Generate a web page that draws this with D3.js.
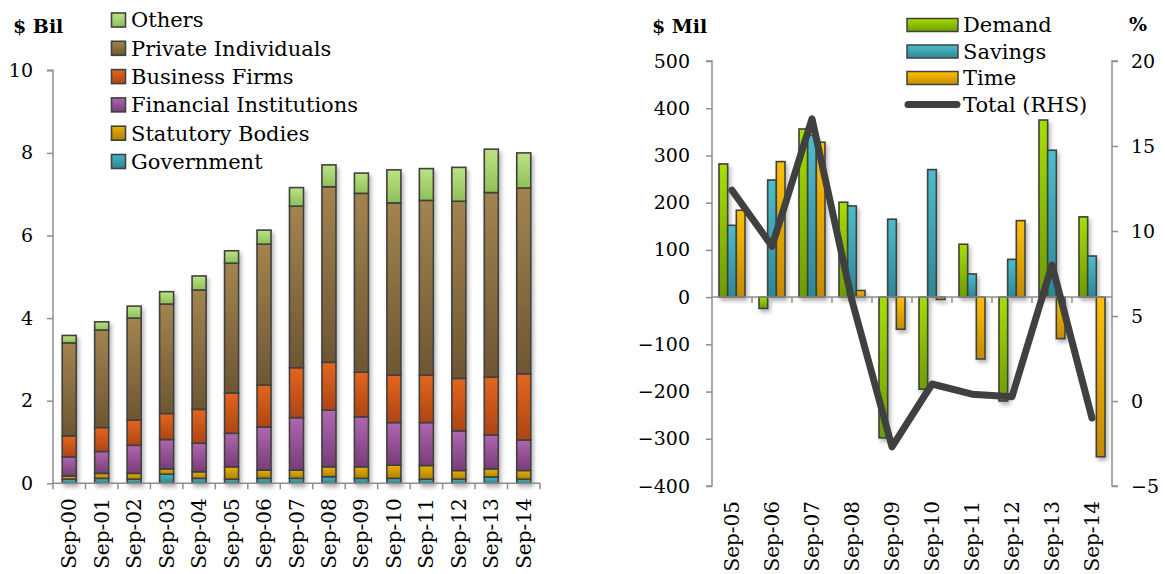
<!DOCTYPE html>
<html>
<head>
<meta charset="utf-8">
<script src="https://cdn.jsdelivr.net/npm/d3@7"></script>
<style>
  html, body { margin: 0; padding: 0; background: #fff; }
  svg { display: block; font-family: "DejaVu Serif", "Liberation Serif", serif; }
  .axis path, .axis line { stroke: #8e8e8e; stroke-width: 1.5; }
</style>
</head>
<body>
<svg id="chart" width="1165" height="574"></svg>
<script>
// ---- Deposits by holder ($ billion), stacked ----
const holderYears = ["Sep-00","Sep-01","Sep-02","Sep-03","Sep-04","Sep-05","Sep-06","Sep-07","Sep-08","Sep-09","Sep-10","Sep-11","Sep-12","Sep-13","Sep-14"];
const government  = [0.10,0.12,0.10,0.22,0.12,0.10,0.12,0.12,0.16,0.12,0.12,0.10,0.10,0.15,0.10];
const statutory   = [0.08,0.12,0.14,0.13,0.16,0.30,0.20,0.20,0.24,0.28,0.32,0.33,0.21,0.20,0.21];
const financial   = [0.46,0.53,0.68,0.71,0.69,0.81,1.04,1.27,1.37,1.21,1.03,1.04,0.96,0.82,0.74];
const business    = [0.51,0.58,0.61,0.63,0.82,0.98,1.02,1.21,1.16,1.08,1.15,1.15,1.27,1.40,1.60];
const individuals = [2.25,2.36,2.47,2.65,2.89,3.14,3.41,3.91,4.25,4.33,4.17,4.23,4.29,4.47,4.50];
const others      = [0.18,0.20,0.29,0.30,0.34,0.30,0.34,0.45,0.53,0.49,0.80,0.77,0.82,1.05,0.85];
const holderNames = ["Government","Statutory Bodies","Financial Institutions","Business Firms","Private Individuals","Others"];
const leftTicks = [0, 2, 4, 6, 8, 10];

// ---- Annual change by deposit type ($ million) and total growth (%) ----
const changeYears = ["Sep-05","Sep-06","Sep-07","Sep-08","Sep-09","Sep-10","Sep-11","Sep-12","Sep-13","Sep-14"];
const demand  = [282, -24, 356, 201, -298, -195, 112, -220, 375, 170];
const savings = [152, 248, 343, 193, 165, 270, 49, 80, 311, 87];
const time    = [184, 287, 328, 14, -68, -5, -131, 162, -88, -338];
const totalPct = [12.4, 9.1, 16.6, 5.9, -2.7, 1.0, 0.4, 0.25, 8.0, -1.0];
const typeNames = ["Demand","Savings","Time"];
const milTicks = [-400,-300,-200,-100,0,100,200,300,400,500];
const pctTicks = [-5, 0, 5, 10, 15, 20];

const svg = d3.select("#chart");
const defs = svg.append("defs");

// vertical gradients: lighter at the top, deeper at the bottom
const fills = {
  "Others": ["#bde384", "#8fbf58"],
  "Private Individuals": ["#a3844f", "#6e5633"],
  "Business Firms": ["#e4661f", "#ad4513"],
  "Financial Institutions": ["#b067b0", "#773d77"],
  "Statutory Bodies": ["#e8b000", "#b08300"],
  "Government": ["#45b6c4", "#2b8590"],
  "Demand": ["#a6de00", "#6c9c00"],
  "Savings": ["#4dbdcc", "#2d8794"],
  "Time": ["#ffc000", "#c48b00"]
};
const gid = name => "g-" + name.replace(/\s+/g, "-");
Object.entries(fills).forEach(([name, [c0, c1]]) => {
  const g = defs.append("linearGradient").attr("id", gid(name))
    .attr("x1", 0).attr("y1", 0).attr("x2", 0).attr("y2", 1);
  g.append("stop").attr("offset", "0%").attr("stop-color", c0);
  g.append("stop").attr("offset", "100%").attr("stop-color", c1);
});
const shadow = defs.append("filter").attr("id", "shadow")
  .attr("x", "-30%").attr("y", "-10%").attr("width", "180%").attr("height", "130%");
shadow.append("feDropShadow").attr("dx", 2).attr("dy", 3)
  .attr("stdDeviation", 2).attr("flood-color", "#000").attr("flood-opacity", 0.3);

const edge = "#404040";
const tickFont = 19, labelFont = 20, legendFont = 21;

// ================= Left: stacked holders =================
const L = { x0: 53, x1: 540, y0: 70.3, y1: 483.3 };
const xL = d3.scaleBand().domain(holderYears).range([L.x0, L.x1]).paddingInner(0).paddingOuter(0);
const yL = d3.scaleLinear().domain([0, 10]).range([L.y1, L.y0]);

const rows = holderYears.map((yr, i) => ({
  year: yr,
  "Government": government[i],
  "Statutory Bodies": statutory[i],
  "Financial Institutions": financial[i],
  "Business Firms": business[i],
  "Private Individuals": individuals[i],
  "Others": others[i]
}));
const stacked = d3.stack().keys(holderNames)(rows);

const barW = 14;
const gL = svg.append("g").attr("filter", "url(#shadow)");
stacked.forEach(layer => {
  gL.selectAll(null).data(layer).join("rect")
    .attr("x", d => xL(d.data.year) + xL.bandwidth() / 2 - barW / 2)
    .attr("y", d => yL(d[1]))
    .attr("width", barW)
    .attr("height", d => yL(d[0]) - yL(d[1]))
    .attr("fill", `url(#${gid(layer.key)})`)
    .attr("stroke", edge).attr("stroke-width", 1.6);
});

// y axis
svg.append("g").attr("class", "axis")
  .attr("transform", `translate(${L.x0},0)`)
  .call(d3.axisLeft(yL).tickValues(leftTicks).tickSize(6).tickPadding(14).tickFormat(d3.format("d")))
  .call(g => g.select(".domain").attr("d", `M-6,${yL(10)}H0V${yL(0)}`))
  .call(g => g.selectAll("text").attr("font-size", tickFont).attr("fill", "#000")
    .attr("font-family", "DejaVu Serif"));

// x axis with ticks at band boundaries
const axL = svg.append("g").attr("class", "axis");
axL.append("line").attr("x1", L.x0).attr("x2", L.x1).attr("y1", L.y1).attr("y2", L.y1);
axL.selectAll(".tk").data(holderYears.map((d, i) => i).concat([holderYears.length]))
  .join("line")
  .attr("x1", i => i < holderYears.length ? xL(holderYears[i]) : L.x1)
  .attr("x2", i => i < holderYears.length ? xL(holderYears[i]) : L.x1)
  .attr("y1", L.y1).attr("y2", L.y1 + 6);
svg.append("g").selectAll("text").data(holderYears).join("text")
  .attr("transform", d => `translate(${xL(d) + xL.bandwidth() / 2},${L.y1 + 15}) rotate(-90)`)
  .attr("text-anchor", "end").attr("dy", "0.35em")
  .attr("font-size", labelFont).text(d => d);

svg.append("text").attr("x", 13).attr("y", 33).attr("font-size", 19)
  .attr("font-weight", "bold").text("$ Bil");

// legend (top to bottom: Others ... Government)
const legL = svg.append("g");
holderNames.slice().reverse().forEach((name, i) => {
  const cy = 20 + i * 28.3;
  legL.append("rect").attr("x", 111.5).attr("y", cy - 7).attr("width", 14).attr("height", 14)
    .attr("fill", `url(#${gid(name)})`).attr("stroke", edge).attr("stroke-width", 1.6);
  legL.append("text").attr("x", 131).attr("y", cy).attr("dy", "0.35em")
    .attr("font-size", legendFont).text(name);
});

// ================= Right: change by type + total line =================
const R = { x0: 712, x1: 1112, y0: 61, y1: 486 };
const xR = d3.scaleBand().domain(changeYears).range([R.x0, R.x1]).paddingInner(0).paddingOuter(0);
const xSub = d3.scaleBand().domain(typeNames).range([7, 33]).paddingInner(0);
const yR = d3.scaleLinear().domain([-400, 500]).range([R.y1, R.y0]);
const yP = d3.scaleLinear().domain([-5, 20]).range([R.y1, R.y0]);

const series = { "Demand": demand, "Savings": savings, "Time": time };
const gR = svg.append("g").attr("filter", "url(#shadow)");
typeNames.forEach(name => {
  gR.selectAll(null).data(series[name].map((v, i) => ({ v, yr: changeYears[i] }))).join("rect")
    .attr("x", d => xR(d.yr) + xSub(name))
    .attr("width", xSub.bandwidth())
    .attr("y", d => yR(Math.max(0, d.v)))
    .attr("height", d => Math.abs(yR(d.v) - yR(0)))
    .attr("fill", `url(#${gid(name)})`)
    .attr("stroke", edge).attr("stroke-width", 1.6);
});

// left axis ($ Mil)
svg.append("g").attr("class", "axis")
  .attr("transform", `translate(${R.x0},0)`)
  .call(d3.axisLeft(yR).tickValues(milTicks).tickSize(6).tickPadding(16).tickFormat(d3.format("d")))
  .call(g => g.select(".domain").attr("d", `M-6,${yR(500)}H0V${yR(-400)}H-6`))
  .call(g => g.selectAll("text").attr("font-size", tickFont).attr("fill", "#000")
    .attr("font-family", "DejaVu Serif"));

// right axis (%)
svg.append("g").attr("class", "axis")
  .attr("transform", `translate(${R.x1},0)`)
  .call(d3.axisRight(yP).tickValues(pctTicks).tickSize(6).tickPadding(13).tickFormat(d3.format("d")))
  .call(g => g.select(".domain").attr("d", `M6,${yP(20)}H0V${yP(-5)}H6`))
  .call(g => g.selectAll("text").attr("font-size", tickFont).attr("fill", "#000")
    .attr("font-family", "DejaVu Serif"));

// zero line with category ticks
const axR = svg.append("g").attr("class", "axis");
axR.append("line").attr("x1", R.x0).attr("x2", R.x1).attr("y1", yR(0)).attr("y2", yR(0));
axR.selectAll(".tk").data(changeYears.slice(1)).join("line")
  .attr("x1", d => xR(d)).attr("x2", d => xR(d))
  .attr("y1", yR(0)).attr("y2", yR(0) + 6);

svg.append("g").selectAll("text").data(changeYears).join("text")
  .attr("transform", d => `translate(${xR(d) + xR.bandwidth() / 2},${R.y1 + 15}) rotate(-90)`)
  .attr("text-anchor", "end").attr("dy", "0.35em")
  .attr("font-size", labelFont).text(d => d);

// total growth line (RHS)
const line = d3.line()
  .x((d, i) => xR(changeYears[i]) + xR.bandwidth() / 2)
  .y(d => yP(d));
svg.append("path").datum(totalPct).attr("d", line)
  .attr("fill", "none").attr("stroke", "#404040").attr("stroke-width", 7)
  .attr("stroke-linejoin", "round").attr("stroke-linecap", "round");

svg.append("text").attr("x", 652).attr("y", 33).attr("font-size", 19)
  .attr("font-weight", "bold").text("$ Mil");
svg.append("text").attr("x", 1129).attr("y", 31).attr("font-size", 19)
  .attr("font-weight", "bold").text("%");

// legend
const legR = svg.append("g");
typeNames.forEach((name, i) => {
  const cy = 25 + i * 26.5;
  legR.append("rect").attr("x", 907).attr("y", cy - 6.5).attr("width", 51).attr("height", 13)
    .attr("fill", `url(#${gid(name)})`).attr("stroke", edge).attr("stroke-width", 1.5);
  legR.append("text").attr("x", 963).attr("y", cy).attr("dy", "0.35em")
    .attr("font-size", legendFont).text(name);
});
legR.append("line").attr("x1", 908).attr("x2", 957).attr("y1", 104.5).attr("y2", 104.5)
  .attr("stroke", "#404040").attr("stroke-width", 7).attr("stroke-linecap", "round");
legR.append("text").attr("x", 963).attr("y", 104.5).attr("dy", "0.35em")
  .attr("font-size", legendFont).text("Total (RHS)");
</script>
</body>
</html>
